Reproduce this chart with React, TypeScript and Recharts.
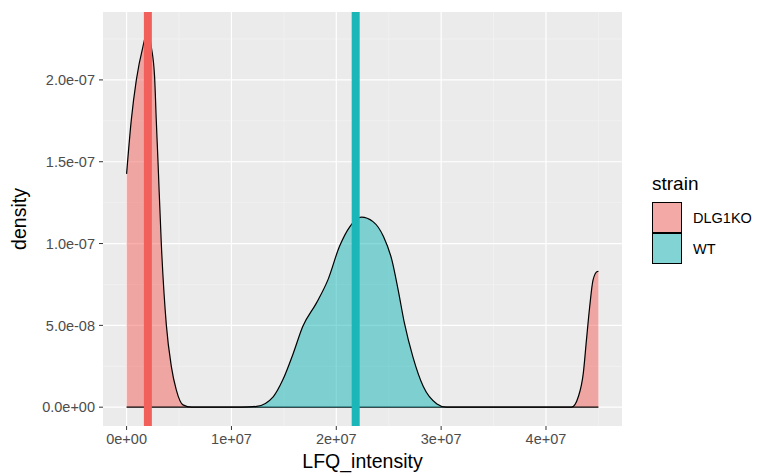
import React from "react"
import {
  Area,
  CartesianGrid,
  ComposedChart,
  ReferenceLine,
  XAxis,
  YAxis,
} from "recharts"

// density estimates (x in LFQ units, y in density)
const dlgX = [0, 0.45e6, 0.93e6, 1.56e6, 2.0e6, 2.36e6, 2.67e6, 2.83e6, 2.99e6, 3.31e6, 3.79e6, 4.27e6, 4.74e6, 5.38e6, 6.2e6, 4.2e7, 4.245e7, 4.309e7, 4.356e7, 4.386e7, 4.417e7, 4.449e7, 4.49e7, 4.5e7]
const dlgY = [1.426e-7, 1.756e-7, 2.0e-7, 2.204e-7, 2.3e-7, 2.2e-7, 2.02e-7, 1.756e-7, 1.51e-7, 1.0e-7, 5.03e-8, 2.48e-8, 1.06e-8, 1.4e-9, 0, 0, 0, 6.5e-9, 2.08e-8, 4.11e-8, 6.15e-8, 7.78e-8, 8.29e-8, 8.3e-8]

const wtX = [0, 1.1e7, 1.24e7, 1.4e7, 1.49e7, 1.59e7, 1.68e7, 1.81e7, 1.92e7, 2.03e7, 2.13e7, 2.24e7, 2.35e7, 2.45e7, 2.53e7, 2.59e7, 2.65e7, 2.73e7, 2.83e7, 2.96e7, 3.05e7, 4.5e7]
const wtY = [0, 0, 5e-10, 6.5e-9, 1.67e-8, 3.3e-8, 4.93e-8, 6.36e-8, 7.78e-8, 9.82e-8, 1.104e-7, 1.161e-7, 1.134e-7, 1.043e-7, 9.0e-8, 7.17e-8, 5.13e-8, 3.09e-8, 1.26e-8, 2e-9, 0, 0]

const strains = ["DLG1KO", "WT"]
const strainMeans = [2.03e6, 2.185e7]

const xTicks = [0, 1e7, 2e7, 3e7, 4e7]
const xMinor = [0.5e7, 1.5e7, 2.5e7, 3.5e7, 4.5e7]
const yTicks = [0, 5e-8, 1e-7, 1.5e-7, 2e-7]
const yMinor = [2.5e-8, 7.5e-8, 1.25e-7, 1.75e-7, 2.25e-7]

const fillColors = ["#F4625C", "#10B4B6"]
const lineColors = ["#F1605B", "#1BB6B8"]

const rows: Record<number, { x: number; dlg?: number; wt?: number }> = {}
dlgX.forEach((x, i) => {
  rows[x] = { ...(rows[x] || { x }), dlg: dlgY[i] }
})
wtX.forEach((x, i) => {
  rows[x] = { ...(rows[x] || { x }), wt: wtY[i] }
})
const data = Object.values(rows).sort((a, b) => a.x - b.x)

const yMax = Math.max(...dlgY, ...wtY)
const xSpan = 4.5e7

const sci = (v: number, digits: number) => {
  if (v === 0) return digits ? "0." + "0".repeat(digits) + "e+00" : "0e+00"
  const [m, e] = v.toExponential(digits).split("e")
  const n = Number(e)
  return `${m}e${n < 0 ? "-" : "+"}${String(Math.abs(n)).padStart(2, "0")}`
}

const font = "'Liberation Sans', Arial, sans-serif"
const tickStyle = { fontSize: 14.5, fill: "#4D4D4D", fontFamily: font }

export default function App() {
  return (
    <div style={{ position: "absolute", left: 0, top: 0, width: 758, height: 473, background: "#fff" }}>
      <ComposedChart
        width={758}
        height={473}
        data={data}
        margin={{ top: 12, right: 136, bottom: 0, left: 0 }}
      >
        <CartesianGrid fill="#EBEBEB" stroke="#F5F5F5" strokeWidth={0.6} verticalValues={xMinor} horizontalValues={yMinor} />
        <CartesianGrid stroke="#FFFFFF" strokeWidth={1.2} verticalValues={xTicks} horizontalValues={yTicks} />
        <XAxis
          dataKey="x"
          type="number"
          domain={[-0.05 * xSpan, 1.05 * xSpan]}
          ticks={xTicks}
          tickFormatter={(v) => sci(v, 0)}
          axisLine={false}
          tickLine={{ stroke: "#333333" }}
          tickSize={4}
          tickMargin={4}
          height={47}
          tick={tickStyle}
          label={{
            value: "LFQ_intensity",
            position: "insideBottom",
            offset: 5,
            style: { fontSize: 19.5, fill: "#000", fontFamily: font },
          }}
        />
        <YAxis
          type="number"
          domain={[-0.05 * yMax, 1.05 * yMax]}
          ticks={yTicks}
          tickFormatter={(v) => sci(v, 1)}
          axisLine={false}
          tickLine={{ stroke: "#333333" }}
          tickSize={4}
          tickMargin={4}
          width={103}
          tick={tickStyle}
          label={{
            content: (props: any) => {
              const vb = props.viewBox || {}
              const cy = vb.y + vb.height / 2
              return (
                <text
                  x={26}
                  y={cy}
                  transform={`rotate(-90 26 ${cy})`}
                  textAnchor="middle"
                  style={{ fontSize: 19.5, fill: "#000", fontFamily: font }}
                >
                  density
                </text>
              )
            },
          }}
        />
        <Area
          dataKey="dlg"
          name={strains[0]}
          type="monotone"
          connectNulls
          fill={fillColors[0]}
          fillOpacity={0.5}
          stroke="#000"
          strokeWidth={1.2}
          isAnimationActive={false}
          dot={false}
          activeDot={false}
        />
        <Area
          dataKey="wt"
          name={strains[1]}
          type="monotone"
          connectNulls
          fill={fillColors[1]}
          fillOpacity={0.5}
          stroke="#000"
          strokeWidth={1.2}
          isAnimationActive={false}
          dot={false}
          activeDot={false}
        />
        {strainMeans.map((m, i) => (
          <ReferenceLine key={strains[i]} x={m} stroke={lineColors[i]} strokeWidth={8} />
        ))}
      </ComposedChart>

      <div style={{ position: "absolute", left: 652, top: 172, fontFamily: font, color: "#000" }}>
        <div style={{ fontSize: 19, lineHeight: "24px", marginBottom: 6 }}>strain</div>
        {strains.map((s, i) => (
          <div key={s} style={{ display: "flex", alignItems: "center", height: 31 }}>
            <div
              style={{
                width: 30,
                height: 31,
                boxSizing: "border-box",
                border: "1.5px solid #000",
                background: "#F2F2F2",
                position: "relative",
              }}
            >
              <div style={{ position: "absolute", inset: 0, background: fillColors[i], opacity: 0.5 }} />
            </div>
            <span style={{ fontSize: 14.5, marginLeft: 11 }}>{s}</span>
          </div>
        ))}
      </div>
    </div>
  )
}
